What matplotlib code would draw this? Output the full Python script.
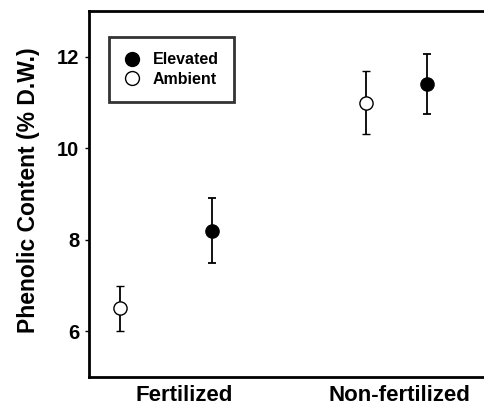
import matplotlib.pyplot as plt
import matplotlib
from matplotlib.lines import Line2D

matplotlib.rcParams["font.family"] = ["Liberation Sans", "DejaVu Sans"]
matplotlib.rcParams["font.weight"] = "bold"

# data
groups = ["Fertilized", "Non-fertilized"]
group_pos = [2.4, 7.87]

ambient_x = [0.78, 7.01]
ambient_y = [6.5, 11.0]
ambient_err = [0.5, 0.69]

elevated_x = [3.11, 8.56]
elevated_y = [8.2, 11.4]
elevated_err = [0.71, 0.65]

fig = plt.figure(figsize=(4.84, 4.08), dpi=100)
ax = fig.add_axes([89 / 484, 31 / 408, 395 / 484, 366 / 408])

ax.errorbar(elevated_x, elevated_y, yerr=elevated_err, fmt="o",
            markerfacecolor="black", markeredgecolor="black", markersize=9.5,
            ecolor="black", elinewidth=1.3, capsize=3, capthick=1.3)
ax.errorbar(ambient_x, ambient_y, yerr=ambient_err, fmt="o",
            markerfacecolor="white", markeredgecolor="black", markersize=9.5,
            markeredgewidth=1.0, ecolor="black", elinewidth=1.3, capsize=3,
            capthick=1.3, zorder=3)

ax.set_xlim(0, 10)
ax.set_ylim(5, 13)
ax.set_yticks([6, 8, 10, 12])
ax.set_xticks(group_pos)
ax.set_xticklabels(groups, fontsize=16, fontweight="bold")
ax.tick_params(axis="x", length=0, pad=6)
ax.tick_params(axis="y", direction="out", length=3, width=1, labelsize=14.5, pad=4)
for lab in ax.get_yticklabels():
    lab.set_fontweight("bold")

ax.set_ylabel("Phenolic Content (% D.W.)", fontsize=16.5, fontweight="bold")
ax.yaxis.set_label_coords(-0.123, 0.511)

for s in ["left", "bottom", "top"]:
    ax.spines[s].set_linewidth(2)
ax.spines["right"].set_visible(False)

handles = [
    Line2D([], [], linestyle="none", marker="o", markersize=10,
           markerfacecolor="black", markeredgecolor="black"),
    Line2D([], [], linestyle="none", marker="o", markersize=10,
           markerfacecolor="white", markeredgecolor="black", markeredgewidth=1.0),
]
leg = ax.legend(handles, ["Elevated", "Ambient"], loc="upper left",
                bbox_to_anchor=(0.0506, 0.929), borderaxespad=0, frameon=True,
                fancybox=False, edgecolor="black", fontsize=11.5,
                handletextpad=0.8, borderpad=0.95, handlelength=1.0, labelspacing=0.3)
leg.get_frame().set_linewidth(2)
for t in leg.get_texts():
    t.set_fontweight("bold")

fig.savefig("out.png", dpi=100)
